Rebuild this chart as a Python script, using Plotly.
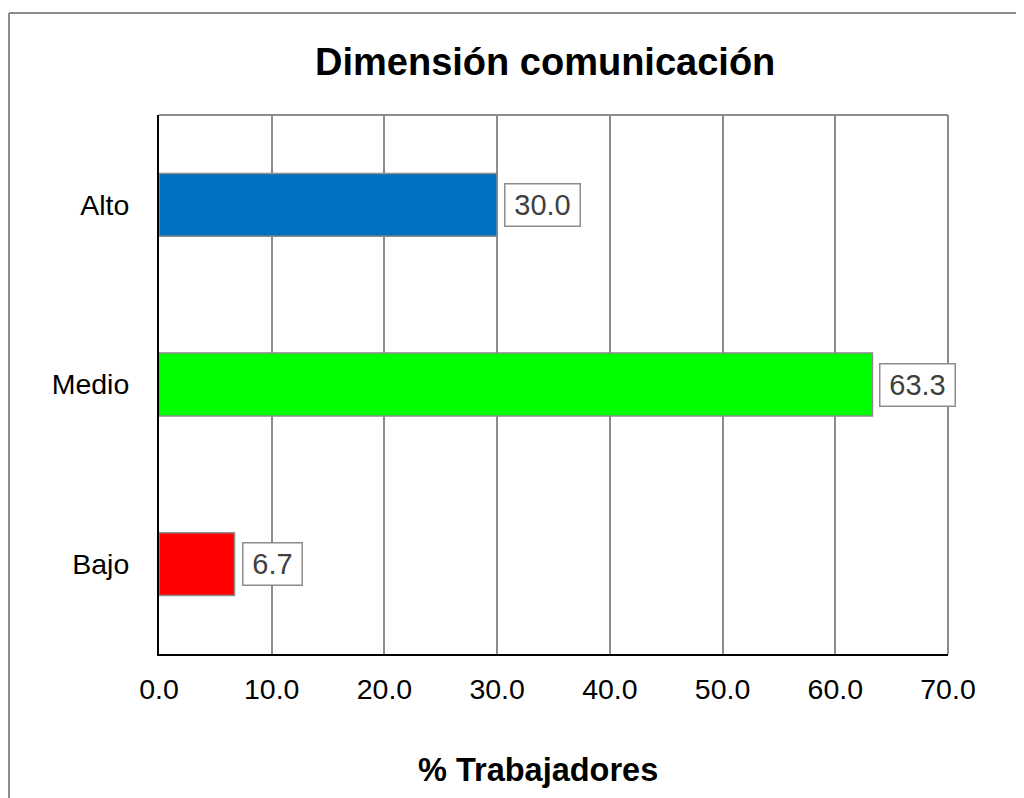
import plotly.graph_objects as go

categories = ["Bajo", "Medio", "Alto"]
values = [6.7, 63.3, 30.0]
colors = ["#FF0000", "#00FF00", "#0070C0"]
tick_vals = [0, 10, 20, 30, 40, 50, 60, 70]
title_text = "Dimensión comunicación"
x_title = "% Trabajadores"

FONT = "Arial, Liberation Sans, sans-serif"
OX, OY = 8, 8  # page offset of the figure inside the window
W, H = 1024 - OX, 798 - OY
# plot area in screen pixels
SX0, SX1, SY0, SY1 = 159, 948, 115, 654
L, T = SX0 - OX, SY0 - OY
R, B = (W + OX) - SX1, (H + OY) - SY1
pw, ph = SX1 - SX0, SY1 - SY0

def px_x(p):
    return (p - SX0) / pw

def px_y(p):
    return 1 - (p - SY0) / ph

LABEL_SIZE = 29

def text_width(s, size):
    em = {".": 0.278}
    return sum(em.get(ch, 0.556) for ch in s) * size

fig = go.Figure(go.Bar(
    x=values, y=categories, orientation="h",
    marker=dict(color=colors, line=dict(color="#8c8c8c", width=1.5)),
    width=0.35, hoverinfo="skip",
))

for v, c in zip(values, categories):
    label = f"{v:.1f}"
    fig.add_annotation(
        x=v, y=c, xref="x", yref="y", text=label,
        showarrow=False, xanchor="left", yanchor="middle", xshift=7,
        width=round(text_width(label, LABEL_SIZE) + 12), height=35,
        font=dict(family=FONT, size=LABEL_SIZE, color="#404040"),
        bgcolor="white", bordercolor="#8c8c8c", borderwidth=1.5, borderpad=3,
    )

fig.add_annotation(
    x=px_x(538), y=px_y(770), xref="paper", yref="paper", text=f"<b>{x_title}</b>",
    showarrow=False, xanchor="center", yanchor="middle",
    font=dict(family=FONT, size=32.5, color="black"),
)

fig.add_annotation(
    x=px_x(545), y=px_y(62), xref="paper", yref="paper", text=f"<b>{title_text}</b>",
    showarrow=False, xanchor="center", yanchor="middle",
    font=dict(family=FONT, size=38, color="black"),
)

# outer chart border (left and top edges; right and bottom lie outside the picture)
fig.add_shape(type="line", xref="paper", yref="paper",
              x0=px_x(9), x1=px_x(9), y0=px_y(900), y1=px_y(13),
              line=dict(color="#8c8c8c", width=2), layer="below")
fig.add_shape(type="line", xref="paper", yref="paper",
              x0=px_x(9), x1=px_x(1100), y0=px_y(13), y1=px_y(13),
              line=dict(color="#8c8c8c", width=2), layer="below")
# plot area top and right borders
fig.add_shape(type="line", xref="paper", yref="paper", x0=0, x1=1, y0=1, y1=1,
              line=dict(color="#8c8c8c", width=2))
fig.add_shape(type="line", xref="paper", yref="paper", x0=1, x1=1, y0=0, y1=1,
              line=dict(color="#8c8c8c", width=2))

fig.update_layout(
    width=W, height=H,
    margin=dict(l=L, r=R, t=T, b=B, pad=0),
    paper_bgcolor="white", plot_bgcolor="white",
    showlegend=False,
    xaxis=dict(range=[0, 70], tickvals=tick_vals, tickformat=".1f",
               showgrid=True, gridcolor="#8c8c8c", gridwidth=1.5,
               showline=True, linecolor="black", linewidth=2, zeroline=False,
               ticks="outside", ticklen=9, tickcolor="rgba(0,0,0,0)",
               tickfont=dict(family=FONT, size=28.5, color="black")),
    yaxis=dict(categoryorder="array", categoryarray=categories, range=[-0.5, 2.5],
               showgrid=False, showline=True, linecolor="black", linewidth=2, zeroline=False,
               ticks="outside", ticklen=22, tickcolor="rgba(0,0,0,0)",
               tickfont=dict(family=FONT, size=28.5, color="black")),
)

fig.write_html("out.html")
